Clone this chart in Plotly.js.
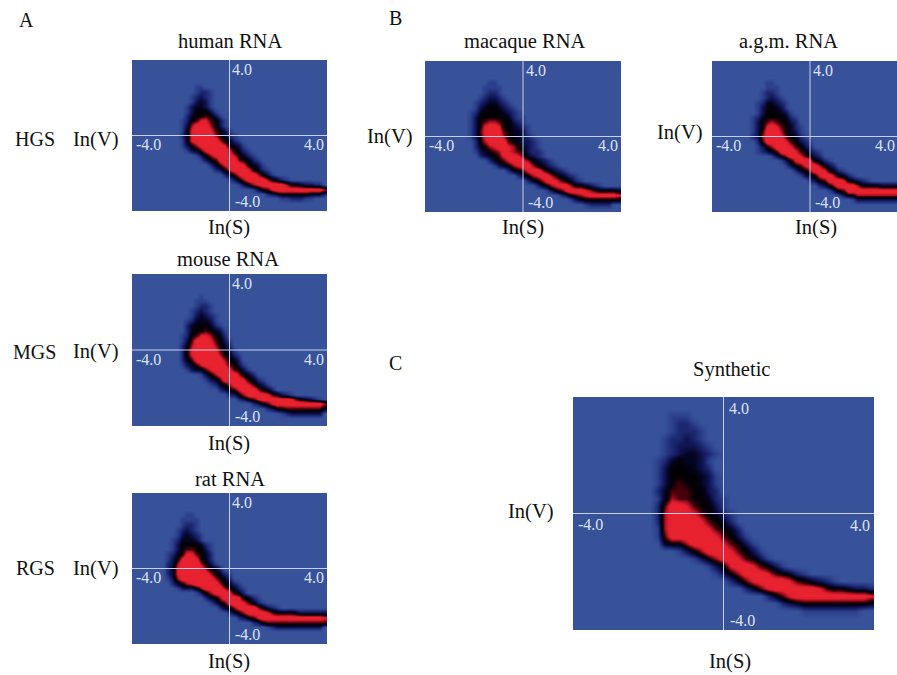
<!DOCTYPE html>
<html><head><meta charset="utf-8">
<script src="https://cdn.plot.ly/plotly-3.0.1.min.js"></script>
<style>html,body{margin:0;padding:0;background:#fff;overflow:hidden}</style></head>
<body><div id="chart" style="width:897px;height:675px"></div>
<script>
// Density, 0 (no points) to 9 (peak). Each row runs top to bottom; "c:digits" = first filled column : values.
const humanRows = ["","","","","","13:11","13:1221","12:12321","12:13431","11:134431","11:1355531","11:24556531","10:1256886531","10:1379997531","10:14899986531","10:248999975421","10:1489999975421","10:13579999985431","11:13468999985421","13:1357999975421","14:1356999965421","16:246899985431","17:235899985421","19:24689997531","20:1357999975421","22:135789999975543322","25:1356899999999997","28:2345555554442","31:1122211","",""];
const mouseRows = ["","","","","14:1","13:111","13:1221","12:12321","12:134321","11:1244431","11:24555421","11:245565431","10:1256887542","10:13699986531","10:24799997542","10:258999986531","10:2589999975421","10:2469999997542","10:13468999986531","11:13446899986531","14:135799997542","15:1346999985421","16:1245799986431","18:235689997542","20:23579999865321","22:235689999998654321","25:2356899999999997","28:2355666666664","31:123333333","",""];
const ratRows = ["","","","","11:11","10:1111","10:1221","9:12321","9:134321","8:1244431","8:135555421","8:135665531","7:1245886542","7:1358998542","7:23799997531","7:248999997542","7:24899999975421","7:13799999997542","8:245789999975421","9:133357999975421","13:13579998542","15:245799985421","16:135699986421","18:2457999975321","20:245799998655554333333","22:2356899999999999998","25:2356666666666666","28:123333333333","","",""];
const macaqueRows = ["","","","","13:11","12:1111","12:1221","11:123321","10:12344321","10:134554321","9:12455554321","9:135555554211","9:135677655321","9:1358998554321","9:1368999654431","9:13589997554321","10:25799996543321","10:24578998754321","10:134567987653221","11:23456899864321","13:24568998754321","14:13457899754321","17:2456899754321","19:2457899754321","21:245799865421","23:24578997554321","25:1356899987655554","28:2356789999998","30:134555555553","33:122222",""];
const agmRows = ["","","","","11:11","11:111","10:1221","10:12321","9:1244321","9:1345431","9:13555431","8:1245555421","8:1356765532","8:13589865421","8:13699975431","8:237999865421","9:269999865321","9:135799986532","9:12346999865321","12:13579986532","14:13589985421","15:13568997532","17:24579985421","18:134589975421","20:2356999854321","22:235799997555544444","24:135699999999999999","26:13557777777777777","29:13333333333333","",""];
const syntheticRows = ["","","13:111","13:1221","13:12221","12:122321","12:1233321","12:12344321","11:12454431","11:13555432","11:135555431","11:135655431","11:246665532","11:1476655421","11:2699865531","11:27999865421","11:27999986542","11:179999986542","11:1699999986531","12:4557999986531","14:135799986531","16:13579986531","18:13589986531","19:1357999865421","21:246899998654321","23:246899999986554332","26:246899999999998","28:2345555555554","31:11111111","",""];

const panelNames = ["human RNA","mouse RNA","rat RNA","macaque RNA","a.g.m. RNA","Synthetic"];
const panelRows = [humanRows,mouseRows,ratRows,macaqueRows,agmRows,syntheticRows];
const tickLabels = ["4.0","-4.0"];
const yLabel = "In(V)", xLabel = "In(S)";
const groupLabels = ["A","B","C"];
const genomeLabels = ["HGS","MGS","RGS"];

const W = 897, H = 675, COLS = 41, NROWS = 31;
const boxes = [
 {l:132,r:327,t:60,b:211},{l:132,r:327,t:274,b:426},{l:132,r:327,t:493,b:644},
 {l:425,r:621,t:61,b:212},{l:712,r:908,t:61,b:212},{l:573,r:874,t:397,b:630}];
const titlePos = [[230,41],[228,259],[230,479],[524,42],[788,41],[731,369]];
const yPos = [[96,139],[96,352],[96,568],[390,136],[680,133],[531,511]];
const xPos = [[229,228],[229,443],[229,661],[523,228],[816,228],[730,661]];
const groupPos = [[26,20],[395,18],[395,363]];
const genomePos = [[35,139],[34,352],[35,568]];

function parseGrid(rows){
  return rows.map(function(s){
    const out = new Array(COLS).fill(0);
    if(s){const p=s.split(":"),c0=+p[0];p[1].split("").forEach(function(d,i){if(c0+i<COLS)out[c0+i]=+d;});}
    return out;
  });
}
const colours = [[0,"#38529a"],[1/9,"#2b3f8a"],[2/9,"#1b2770"],[3/9,"#0e1250"],[4/9,"#040420"],[5/9,"#020005"],
 [6/9,"#45000a"],[7/9,"#a5101f"],[8/9,"#e4202f"],[1,"#e8222f"]];

const traces=[], shapes=[], annotations=[];
const layout={width:W,height:H,margin:{l:0,r:0,t:0,b:0},paper_bgcolor:"#fff",plot_bgcolor:"#38529a",showlegend:false,hovermode:false};
function paperText(text,p,size,colour){
  annotations.push({text:text,x:p[0]/W,y:1-p[1]/H,xref:"paper",yref:"paper",showarrow:false,xanchor:"center",yanchor:"middle",
    font:{family:"Liberation Serif, serif",size:size,color:colour||"#111"}});
}
panelRows.forEach(function(rows,i){
  const b=boxes[i], n=i+1, sx=i?String(n):"";
  const xa="x"+sx, ya="y"+sx, fullW=b.r-b.l;
  const clipR=Math.min(b.r,W);
  const xmax=-5+10*(clipR-b.l)/fullW;
  traces.push({type:"heatmap",xaxis:xa,yaxis:ya,z:parseGrid(rows),x0:-5+5/COLS,dx:10/COLS,y0:5-5/NROWS,dy:-10/NROWS,
    zmin:0,zmax:9,zsmooth:"best",colorscale:colours,showscale:false,hoverinfo:"skip"});
  layout["xaxis"+sx]={domain:[b.l/W,clipR/W],range:[-5,xmax],showgrid:false,zeroline:false,showticklabels:false,ticks:"",anchor:ya,fixedrange:true};
  layout["yaxis"+sx]={domain:[1-b.b/H,1-b.t/H],range:[-5,5],showgrid:false,zeroline:false,showticklabels:false,ticks:"",anchor:xa,fixedrange:true};
  const lineCol="#c6d0ea";
  shapes.push({type:"line",xref:xa,yref:ya,x0:0,x1:0,y0:-5,y1:5,line:{color:lineCol,width:1},layer:"above"});
  shapes.push({type:"line",xref:xa,yref:ya,x0:-5,x1:xmax,y0:0,y1:0,line:{color:lineCol,width:1},layer:"above"});
  const fs=16, tc="#dce2f2";
  const lab=function(t,x,y,anchor){annotations.push({text:t,x:x,y:y,xref:xa,yref:ya,showarrow:false,xanchor:anchor||"center",yanchor:"middle",
    font:{family:"Liberation Serif, serif",size:fs,color:tc}});};
  if(i===5){
    lab(tickLabels[0],0.5,4.5);
    lab(tickLabels[1],0.63,-4.6);
    lab(tickLabels[1],-4.42,-0.47);
    lab(tickLabels[0],4.55,-0.5);
  } else {
    lab(tickLabels[0],0.65,4.35);
    lab(tickLabels[1],0.9,-4.4);
    lab(tickLabels[1],-4.15,-0.6);
    if(i===4) lab(tickLabels[0],xmax,-0.6,"right"); else lab(tickLabels[0],4.35,-0.6);
  }
  paperText(panelNames[i],titlePos[i],20.5);
  paperText(yLabel,yPos[i],20.5);
  paperText(xLabel,xPos[i],20.5);
});
groupLabels.forEach(function(t,i){paperText(t,groupPos[i],20);});
genomeLabels.forEach(function(t,i){paperText(t,genomePos[i],20);});
layout.shapes=shapes; layout.annotations=annotations;
Plotly.newPlot("chart",traces,layout,{displayModeBar:false,staticPlot:true});
</script></body></html>
